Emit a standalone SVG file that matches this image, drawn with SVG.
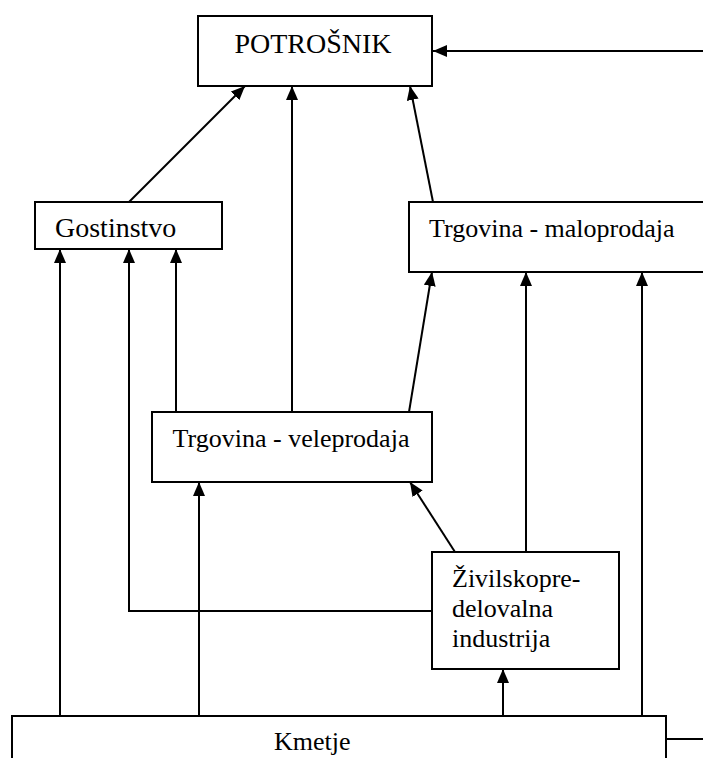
<svg xmlns="http://www.w3.org/2000/svg" width="703" height="758" viewBox="0 0 703 758">
  <style>
    .box { fill: #ffffff; stroke: #000000; stroke-width: 2; }
    .lbl { font-family: "Liberation Serif", "Times New Roman", serif; font-size: 26px; fill: #000000; }
    .big { font-size: 28px; }
    .edge { fill: none; stroke: #000000; stroke-width: 2; }
    .arr { marker-end: url(#head); }
  </style>
  <defs>
    <marker id="head" viewBox="0 0 14 12" refX="14" refY="6" markerWidth="14" markerHeight="12" markerUnits="userSpaceOnUse" orient="auto">
      <path d="M0,0 L14,6 L0,12 Z" fill="#000000"/>
    </marker>
  </defs>
  <rect x="0" y="0" width="703" height="758" fill="#ffffff"/>

  <g id="connectors">
    <path class="edge arr" d="M703,51 L433,51"/>
    <path class="edge arr" d="M129,202 L245,86"/>
    <path class="edge arr" d="M292,412 L292,86"/>
    <path class="edge arr" d="M433,202 L410,86"/>
    <path class="edge arr" d="M60,716 L60,249"/>
    <path class="edge arr" d="M432,611 L129,611 L129,249"/>
    <path class="edge arr" d="M176,412 L176,249"/>
    <path class="edge arr" d="M409,412 L432,272"/>
    <path class="edge arr" d="M526,552 L526,272"/>
    <path class="edge arr" d="M642,716 L642,272"/>
    <path class="edge arr" d="M199,716 L199,482"/>
    <path class="edge arr" d="M455,552 L410,482"/>
    <path class="edge arr" d="M503,716 L503,669"/>
    <path class="edge" d="M666,739 L703,739"/>
  </g>

  <g id="potrosnik">
    <rect class="box" x="198" y="16" width="234" height="70"/>
    <text class="lbl big" x="313" y="53" text-anchor="middle">POTROŠNIK</text>
  </g>
  <g id="gostinstvo">
    <rect class="box" x="35" y="202" width="187" height="47"/>
    <text class="lbl big" x="55" y="237">Gostinstvo</text>
  </g>
  <g id="maloprodaja">
    <rect class="box" x="409" y="202" width="310" height="70"/>
    <text class="lbl" x="429" y="237">Trgovina - maloprodaja</text>
  </g>
  <g id="veleprodaja">
    <rect class="box" x="152" y="412" width="280" height="70"/>
    <text class="lbl" x="291" y="447" text-anchor="middle">Trgovina - veleprodaja</text>
  </g>
  <g id="zivilsko">
    <rect class="box" x="432" y="552" width="187" height="117"/>
    <text class="lbl" x="452" y="587">Živilskopre-</text>
    <text class="lbl" x="452" y="617">delovalna</text>
    <text class="lbl" x="452" y="647">industrija</text>
  </g>
  <g id="kmetje">
    <rect class="box" x="12" y="716" width="654" height="80"/>
    <text class="lbl" x="274" y="750">Kmetje</text>
  </g>
</svg>
